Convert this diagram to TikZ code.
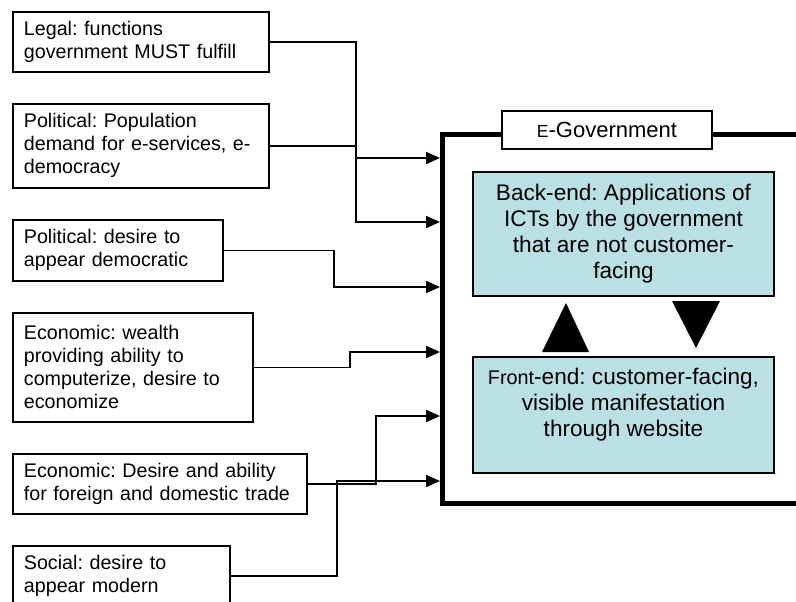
\documentclass[tikz,border=0pt]{standalone}
\usepackage{fontspec}
\setmainfont{Liberation Sans}
\frenchspacing
\usetikzlibrary{arrows.meta}
\definecolor{panelblue}{RGB}{186,224,228}
\tikzset{
  factor/.style={draw,line width=1.8pt,anchor=north west,align=left,inner xsep=11pt,
    font=\fontsize{19.7}{23}\selectfont},
  part/.style={draw,line width=1.4pt,fill=panelblue,align=center,minimum width=301pt,
    font=\fontsize{22.6}{26}\selectfont},
  feed/.style={line width=1.8pt,-{Triangle[length=14pt,width=12pt]}}
}

\begin{document}
\begin{tikzpicture}[x=1pt,y=-1pt]
      \useasboundingbox (0,0) rectangle (796,602);
      \node[factor,text width=234pt,minimum height=60pt] (legal) at (12,11)
        {Legal: functions\\government MUST fulfill};
      \node[factor,text width=234pt,minimum height=84pt] (popdem) at (12,103)
        {Political: Population\\demand for e-services, e-\\democracy};
      \node[factor,text width=188pt,minimum height=61pt] (democ) at (12,219)
        {Political: desire to\\appear democratic};
      \node[factor,text width=218pt,minimum height=109pt] (wealth) at (12,312)
        {Economic: wealth\\providing ability to\\computerize, desire to\\economize};
      \node[factor,text width=272pt,minimum height=60pt] (trade) at (12,453)
        {Economic: Desire and ability\\for foreign and domestic trade};
      \node[factor,text width=195pt,minimum height=60pt] (social) at (12,545)
        {Social: desire to\\appear modern};
      \node[draw,line width=5pt,minimum width=388pt,minimum height=369pt] (egov) at (636,318.5) {};
      \node[draw,line width=1.8pt,fill=white,minimum width=210pt,minimum height=38pt,
        font=\fontsize{22}{26}\selectfont] (title) at (607,130)
        {{\fontsize{17.5}{26}\selectfont E}-Government};
      \node[part,minimum height=124pt] (back) at (623.5,234)
        {Back-end: Applications of\\ICTs by the government\\that are not customer-\\facing};
      \node[part,minimum height=116pt] (front) at (623.5,415)
        {{\fontsize{19.8}{26}\selectfont Front}-end: customer-facing,\\visible manifestation\\through website\\ ~};
      \fill (542,352) -- (566,303) -- (589,352) -- cycle;
      \fill (672,301) -- (720,301) -- (696,348) -- cycle;
      \coordinate (in1) at (440,158);
      \coordinate (in2) at (440,222);
      \coordinate (in3) at (440,287);
      \coordinate (in4) at (440,352);
      \coordinate (in5) at (440,416);
      \coordinate (in6) at (440,481);
      \draw[feed] (legal.east) -- ++(86,0) |- (in2);
      \draw[feed] (popdem.east) -- ++(86,0) |- (in1);
      \draw[feed] (democ.east) -- ++(110,0) |- (in3);
      \draw[feed] (wealth.east) -- ++(96,0) |- (in4);
      \draw[feed] (trade.east) -- ++(68,0) |- (in5);
      \draw[feed] (social.east) -- ++(106,0) |- (in6);
    \end{tikzpicture}
\end{document}
